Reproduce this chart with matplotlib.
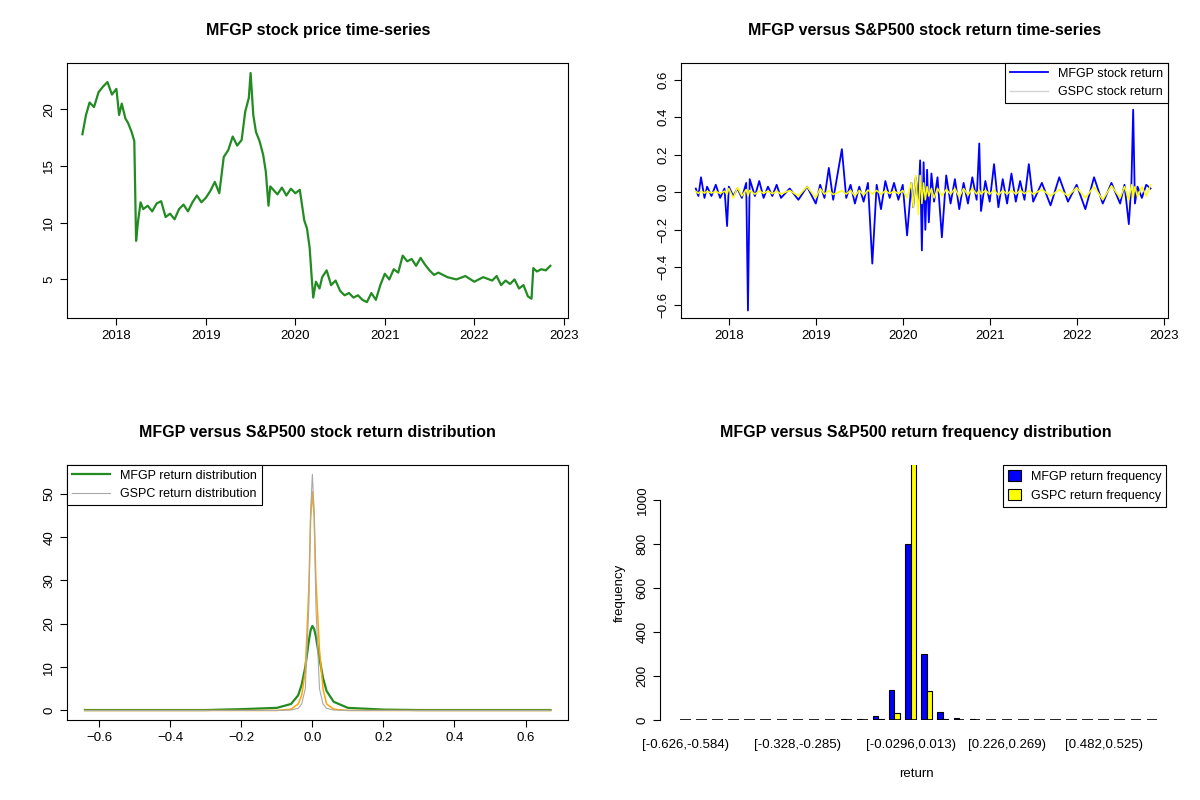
import matplotlib
matplotlib.use("Agg")
import matplotlib.pyplot as plt
import numpy as np

# --- MFGP price (fractional year, price) ---
price_t = [2017.62, 2017.66, 2017.7, 2017.75, 2017.8, 2017.85, 2017.9, 2017.95, 2018.0, 2018.03,
           2018.06, 2018.1, 2018.13, 2018.17, 2018.2, 2018.22, 2018.24, 2018.27, 2018.3, 2018.35,
           2018.4, 2018.45, 2018.5, 2018.55, 2018.6, 2018.65, 2018.7, 2018.75, 2018.8, 2018.85,
           2018.9, 2018.95, 2019.0, 2019.05, 2019.1, 2019.15, 2019.2, 2019.25, 2019.3, 2019.35,
           2019.4, 2019.44, 2019.48, 2019.5, 2019.53, 2019.56, 2019.6, 2019.64, 2019.67, 2019.7,
           2019.72, 2019.8, 2019.85, 2019.9, 2019.95, 2020.0, 2020.05, 2020.1, 2020.13, 2020.16,
           2020.18, 2020.2, 2020.23, 2020.27, 2020.3, 2020.35, 2020.4, 2020.45, 2020.5, 2020.55,
           2020.6, 2020.65, 2020.7, 2020.75, 2020.8, 2020.85, 2020.9, 2020.95, 2021.0, 2021.05,
           2021.1, 2021.15, 2021.2, 2021.25, 2021.3, 2021.35, 2021.4, 2021.45, 2021.5, 2021.55,
           2021.6, 2021.7, 2021.8, 2021.9, 2022.0, 2022.1, 2022.2, 2022.25, 2022.3, 2022.35,
           2022.4, 2022.45, 2022.5, 2022.55, 2022.6, 2022.64, 2022.66, 2022.7, 2022.75, 2022.8,
           2022.85]
price_v = [17.8, 19.5, 20.6, 20.2, 21.5, 22.0, 22.4, 21.3, 21.8, 19.5,
           20.5, 19.2, 18.8, 18.0, 17.2, 8.4, 10.0, 11.8, 11.2, 11.5,
           11.0, 11.7, 11.9, 10.5, 10.8, 10.3, 11.2, 11.6, 11.0, 11.8,
           12.4, 11.8, 12.2, 12.8, 13.6, 12.6, 15.8, 16.4, 17.6, 16.8,
           17.3, 19.8, 21.0, 23.2, 19.5, 18.0, 17.2, 16.0, 14.5, 11.5,
           13.2, 12.5, 13.1, 12.4, 13.0, 12.6, 12.9, 10.2, 9.5, 7.8,
           5.5, 3.4, 4.8, 4.2, 5.2, 5.8, 4.5, 4.9, 4.0, 3.6,
           3.8, 3.4, 3.6, 3.2, 3.0, 3.8, 3.2, 4.5, 5.5, 5.0,
           5.9, 5.6, 7.1, 6.6, 6.8, 6.2, 6.9, 6.3, 5.8, 5.4,
           5.6, 5.2, 5.0, 5.3, 4.8, 5.2, 4.9, 5.3, 4.5, 4.9,
           4.6, 5.0, 4.2, 4.5, 3.5, 3.3, 6.0, 5.7, 5.9, 5.8,
           6.2]

# --- daily returns (sampled), MFGP and GSPC ---
ret_t = [2017.62, 2017.65, 2017.68, 2017.72, 2017.75, 2017.8, 2017.85, 2017.9, 2017.95, 2017.98,
         2018.0, 2018.05, 2018.1, 2018.15, 2018.2, 2018.22, 2018.24, 2018.3, 2018.35, 2018.4,
         2018.45, 2018.5, 2018.55, 2018.6, 2018.7, 2018.8, 2018.9, 2019.0, 2019.05, 2019.1,
         2019.15, 2019.2, 2019.3, 2019.35, 2019.4, 2019.45, 2019.5, 2019.55, 2019.6, 2019.65,
         2019.7, 2019.75, 2019.8, 2019.85, 2019.9, 2019.95, 2020.0, 2020.05, 2020.1, 2020.12,
         2020.15, 2020.18, 2020.2, 2020.22, 2020.24, 2020.26, 2020.28, 2020.3, 2020.33, 2020.36,
         2020.4, 2020.45, 2020.5, 2020.55, 2020.6, 2020.65, 2020.7, 2020.75, 2020.8, 2020.85,
         2020.88, 2020.9, 2020.95, 2021.0, 2021.05, 2021.1, 2021.15, 2021.2, 2021.25, 2021.3,
         2021.35, 2021.4, 2021.45, 2021.5, 2021.6, 2021.7, 2021.8, 2021.9, 2022.0, 2022.1,
         2022.2, 2022.3, 2022.4, 2022.5, 2022.55, 2022.6, 2022.63, 2022.65, 2022.67, 2022.7,
         2022.75, 2022.8, 2022.85]
mfgp_ret = [0.02, -0.02, 0.08, -0.03, 0.03, -0.02, 0.04, -0.03, 0.02, -0.18,
            0.03, -0.02, 0.02, -0.03, 0.05, -0.63, 0.07, -0.02, 0.06, -0.03,
            0.03, -0.02, 0.04, -0.03, 0.02, -0.04, 0.03, -0.06, 0.04, -0.03,
            0.13, -0.04, 0.23, -0.03, 0.04, -0.06, 0.03, -0.05, 0.05, -0.38,
            0.04, -0.09, 0.06, -0.03, 0.05, -0.04, 0.04, -0.23, 0.05, -0.08,
            0.08, -0.05, 0.17, -0.31, 0.16, -0.20, 0.12, -0.16, 0.10, -0.05,
            0.08, -0.24, 0.09, -0.06, 0.07, -0.09, 0.05, -0.06, 0.08, -0.04,
            0.26, -0.10, 0.06, -0.05, 0.15, -0.08, 0.07, -0.06, 0.10, -0.05,
            0.06, -0.04, 0.15, -0.05, 0.05, -0.07, 0.08, -0.05, 0.04, -0.09,
            0.08, -0.06, 0.05, -0.06, 0.04, -0.17, 0.05, 0.44, -0.06, 0.03,
            -0.03, 0.04, 0.02]
gspc_ret = [0.005, -0.006, 0.007, -0.005, 0.006, -0.004, 0.005, -0.006, 0.006, -0.01,
            0.02, -0.03, 0.025, -0.02, 0.015, -0.02, 0.01, -0.01, 0.008, -0.006,
            0.007, -0.008, 0.006, -0.01, 0.01, -0.02, 0.03, -0.03, 0.02, -0.01,
            0.01, -0.012, 0.009, -0.01, 0.01, -0.02, 0.01, -0.015, 0.012, -0.01,
            0.01, -0.012, 0.008, -0.007, 0.006, -0.008, 0.01, -0.03, 0.05, -0.08,
            0.09, -0.12, 0.09, -0.06, 0.05, -0.04, 0.03, -0.02, 0.02, -0.03,
            0.02, -0.02, 0.015, -0.01, 0.02, -0.025, 0.02, -0.015, 0.02, -0.01,
            0.012, -0.01, 0.01, -0.01, 0.012, -0.015, 0.01, -0.01, 0.012, -0.01,
            0.01, -0.008, 0.01, -0.01, 0.015, -0.02, 0.015, -0.02, 0.025, -0.03,
            0.03, -0.04, 0.035, -0.03, 0.03, -0.04, 0.04, -0.03, 0.03, -0.025,
            0.03, -0.02, 0.04]

# --- density estimates ---
dens_x = [-0.64, -0.3, -0.2, -0.1, -0.06, -0.04, -0.03, -0.02, -0.01, -0.005, 0.0,
          0.005, 0.01, 0.02, 0.03, 0.04, 0.06, 0.1, 0.2, 0.3, 0.67]
mfgp_dens = [0.1, 0.1, 0.3, 0.6, 1.5, 3.5, 6.0, 10.0, 16.0, 18.5, 19.5,
             18.8, 17.0, 12.0, 7.5, 4.5, 2.0, 0.6, 0.2, 0.1, 0.1]
gspc_dens = [0, 0, 0, 0, 0.3, 1.5, 3.5, 9.0, 28.0, 44.0, 50.5,
             45.0, 30.0, 14.0, 5.0, 1.5, 0.3, 0, 0, 0, 0]
gspc_dens2 = [0, 0, 0, 0, 0.1, 0.5, 1.5, 5.0, 24.0, 46.0, 54.5,
              46.0, 24.0, 5.0, 1.5, 0.5, 0.1, 0, 0, 0, 0]

# --- histogram frequencies (30 bins) ---
mfgp_freq = [1, 0, 0, 0, 0, 0, 0, 1, 1, 2, 3, 5, 20, 135, 800, 300, 35, 10, 4, 2,
             2, 1, 1, 1, 1, 1, 0, 1, 0, 0]
gspc_freq = [0, 0, 0, 0, 0, 0, 0, 0, 0, 0, 0, 0, 5, 30, 1180, 130, 5, 0, 0, 0,
             0, 0, 0, 0, 0, 0, 0, 0, 0, 0]
shown_bins = [0, 7, 14, 20, 26]
shown_labels = ["[-0.626,-0.584)", "[-0.328,-0.285)", "[-0.0296,0.013)",
                "[0.226,0.269)", "[0.482,0.525)"]

plt.rcParams["font.family"] = "Liberation Sans"
plt.rcParams["font.size"] = 9.5
fig = plt.figure(figsize=(12, 8), dpi=100)


def r_style(ax):
    ax.tick_params(direction="out", length=5)
    for lab in ax.get_yticklabels():
        lab.set_rotation(90)
        lab.set_va("center")


def r_legend(ax, loc, **kw):
    leg = ax.legend(loc=loc, fancybox=False, edgecolor="black", framealpha=1,
                    borderaxespad=0, fontsize=9, **kw)
    leg.get_frame().set_linewidth(0.8)


year_ticks = [2018, 2019, 2020, 2021, 2022, 2023]
title_kw = dict(fontweight="bold", fontsize=11.5, pad=20)

# panel 1
ax1 = fig.add_axes([0.056, 0.6025, 0.4175, 0.319])
ax1.plot(price_t, price_v, color="forestgreen", lw=1.6)
ax1.set_xlim(2017.45, 2023.05)
ax1.set_ylim(1.6, 24.1)
ax1.set_xticks(year_ticks)
ax1.set_yticks([5, 10, 15, 20])
ax1.set_title("MFGP stock price time-series", **title_kw)
r_style(ax1)

# panel 2
ax2 = fig.add_axes([0.5675, 0.6025, 0.4058, 0.319])
ax2.plot(ret_t, mfgp_ret, color="blue", lw=1.3, label="MFGP stock return")
ax2.plot(ret_t, gspc_ret, color="yellow", lw=1.1)
ax2.plot([], [], color="lightgray", lw=1, label="GSPC stock return")
ax2.set_xlim(2017.45, 2023.05)
ax2.set_ylim(-0.67, 0.69)
ax2.set_xticks(year_ticks)
ax2.set_yticks([-0.6, -0.4, -0.2, 0.0, 0.2, 0.4, 0.6])
ax2.set_title("MFGP versus S&P500 stock return time-series", **title_kw)
r_legend(ax2, "upper right", handlelength=3)
r_style(ax2)

# panel 3
ax3 = fig.add_axes([0.056, 0.1, 0.4175, 0.319])
ax3.plot(dens_x, mfgp_dens, color="forestgreen", lw=1.6, label="MFGP return distribution")
ax3.plot(dens_x, gspc_dens, color="orange", lw=1.1)
ax3.plot(dens_x, gspc_dens2, color="darkgray", lw=0.8, label="GSPC return distribution")
ax3.set_xlim(-0.69, 0.72)
ax3.set_ylim(-2.2, 56.7)
ax3.set_xticks([-0.6, -0.4, -0.2, 0.0, 0.2, 0.4, 0.6])
ax3.set_yticks([0, 10, 20, 30, 40, 50])
ax3.set_title("MFGP versus S&P500 stock return distribution", **title_kw)
r_legend(ax3, "upper left", handlelength=3)
r_style(ax3)

# panel 4
ax4 = fig.add_axes([0.555, 0.1, 0.417, 0.319])
idx = np.arange(len(mfgp_freq))
w = 0.33
ax4.bar(idx - w / 2, mfgp_freq, w, color="blue", edgecolor="black", lw=0.8,
        label="MFGP return frequency")
ax4.bar(idx + w / 2, gspc_freq, w, color="yellow", edgecolor="black", lw=0.8,
        label="GSPC return frequency")
# zero-height bars in R still draw their black border as a dash
ax4.hlines(np.zeros(len(idx)), idx - w, idx + w, color="black", lw=1.2)
ax4.set_ylim(0, 1160)
ax4.set_xlim(-1.2, 29.9)
ax4.set_xticks(shown_bins)
ax4.set_xticklabels(shown_labels)
ax4.set_yticks([0, 200, 400, 600, 800, 1000])
for s in ["top", "right", "bottom"]:
    ax4.spines[s].set_visible(False)
ax4.spines["left"].set_bounds(0, 1000)
ax4.spines["left"].set_position(("outward", 4))
ax4.set_xlabel("return", labelpad=12)
ax4.set_ylabel("frequency", labelpad=8)
ax4.set_title("MFGP versus S&P500 return frequency distribution", **title_kw)
r_legend(ax4, "upper right", handlelength=1, handleheight=1)
r_style(ax4)
ax4.tick_params(axis="x", length=0, pad=14)

fig.savefig("out.png", dpi=100)
